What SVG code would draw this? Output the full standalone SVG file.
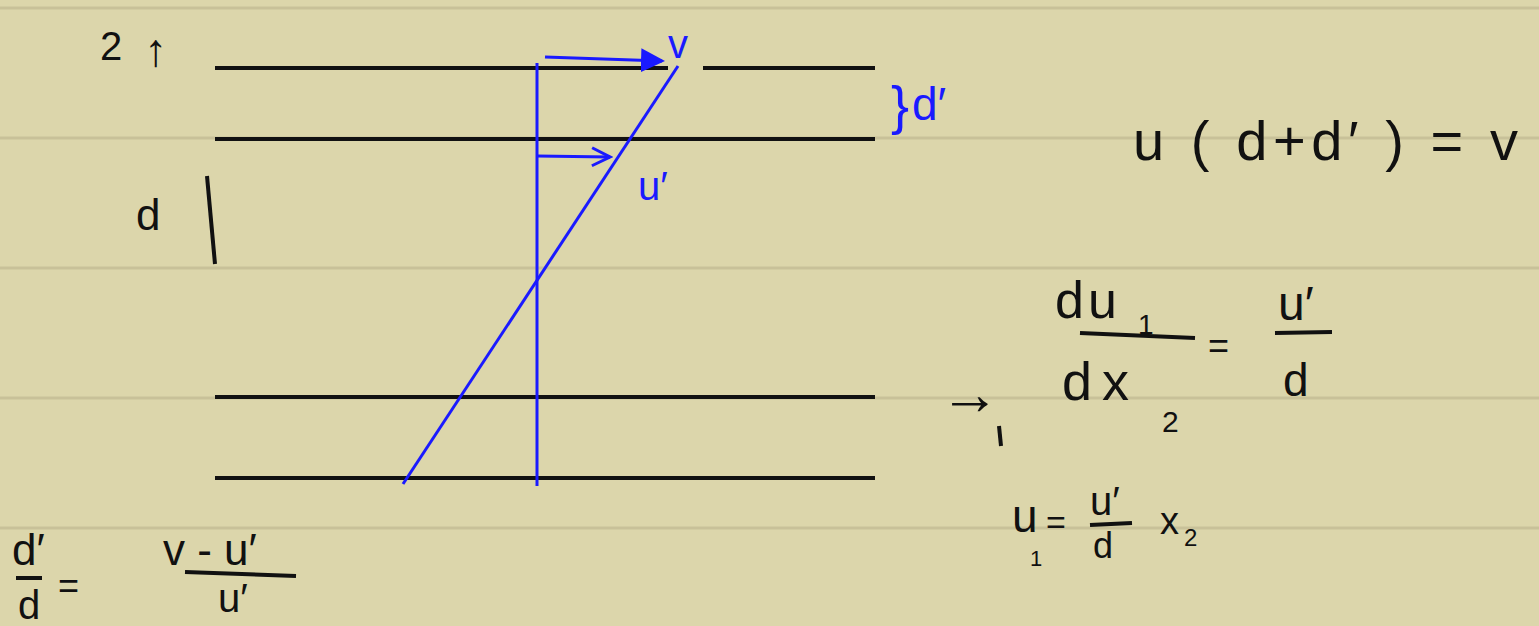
<svg xmlns="http://www.w3.org/2000/svg" width="1539" height="626" viewBox="0 0 1539 626">
<defs>
<style>
.paper{stroke:#c8c199;stroke-width:3}
.blk{stroke:#111;stroke-width:4;fill:none}
.blu{stroke:#1a1aff;stroke-width:3;fill:none}
.tb{font-family:"Liberation Sans",sans-serif;fill:#111}
.tu{font-family:"Liberation Sans",sans-serif;fill:#1a1aff}
</style>
<marker id="ah" markerWidth="8" markerHeight="8" refX="7" refY="4" orient="auto" markerUnits="strokeWidth">
<path d="M0,0 L8,4 L0,8 z" fill="#1a1aff"/>
</marker>
<marker id="ao" markerWidth="8" markerHeight="8" refX="7" refY="4" orient="auto" markerUnits="strokeWidth">
<path d="M1,1 L7,4 L1,7" fill="none" stroke="#1a1aff" stroke-width="1"/>
</marker>
</defs>
<rect width="1539" height="626" fill="#dcd6ab"/>
<g id="paper">
<line class="paper" x1="0" y1="8" x2="1539" y2="8"/>
<line class="paper" x1="0" y1="138" x2="1539" y2="138"/>
<line class="paper" x1="0" y1="268" x2="1539" y2="268"/>
<line class="paper" x1="0" y1="398" x2="1539" y2="398"/>
<line class="paper" x1="0" y1="528" x2="1539" y2="528"/>
</g>
<g id="plates">
<line class="blk" x1="215" y1="68" x2="668" y2="68"/>
<line class="blk" x1="703" y1="68" x2="875" y2="68"/>
<line class="blk" x1="215" y1="139" x2="875" y2="139"/>
<line class="blk" x1="215" y1="397" x2="875" y2="397"/>
<line class="blk" x1="215" y1="478" x2="875" y2="478"/>
</g>
<g id="connectors">
<line class="blu" x1="537" y1="63" x2="537" y2="486"/>
<line class="blu" x1="403" y1="484" x2="678" y2="66"/>
<line class="blu" x1="545" y1="57" x2="662" y2="61" marker-end="url(#ah)"/>
<line class="blu" x1="537" y1="156" x2="610" y2="157" marker-end="url(#ao)"/>
</g>
<g id="labels-blue">
<text class="tu" x="668" y="58" font-size="40">v</text>
<text class="tu" x="638" y="200" font-size="40">u′</text>
<text class="tu" x="891" y="124" font-size="54">}</text>
<text class="tu" x="912" y="120" font-size="46">d′</text>
</g>
<g id="labels-black">
<text class="tb" x="100" y="60" font-size="40">2</text>
<text class="tb" x="144" y="66" font-size="46">↑</text>
<text class="tb" x="136" y="230" font-size="44">d</text>
<line class="blk" x1="207" y1="176" x2="215" y2="264" stroke-width="3"/>
<text class="tb" x="1133" y="160" font-size="56" textLength="385" lengthAdjust="spacing">u ( d+d′ ) = v</text>
<text class="tb" x="1055" y="318" font-size="52" letter-spacing="4">du</text>
<text class="tb" x="1138" y="334" font-size="28">1</text>
<line class="blk" x1="1080" y1="333" x2="1195" y2="338" stroke-width="3"/>
<text class="tb" x="1208" y="358" font-size="36">=</text>
<text class="tb" x="1278" y="320" font-size="48">u′</text>
<line class="blk" x1="1275" y1="333" x2="1332" y2="332" stroke-width="3"/>
<text class="tb" x="1283" y="396" font-size="46">d</text>
<text class="tb" x="1062" y="400" font-size="54" letter-spacing="10">dx</text>
<text class="tb" x="1162" y="432" font-size="30">2</text>
<text class="tb" x="940" y="414" font-size="60">→</text>
<line class="blk" x1="999" y1="426" x2="1001" y2="446" stroke-width="3"/>
<text class="tb" x="1012" y="532" font-size="46">u</text>
<text class="tb" x="1030" y="566" font-size="22">1</text>
<text class="tb" x="1046" y="534" font-size="34">=</text>
<text class="tb" x="1090" y="515" font-size="40">u′</text>
<line class="blk" x1="1090" y1="525" x2="1132" y2="523" stroke-width="3"/>
<text class="tb" x="1093" y="558" font-size="36">d</text>
<text class="tb" x="1160" y="534" font-size="38">x</text>
<text class="tb" x="1184" y="546" font-size="24">2</text>
<text class="tb" x="12" y="565" font-size="44">d′</text>
<line class="blk" x1="16" y1="578" x2="42" y2="578" stroke-width="3"/>
<text class="tb" x="18" y="619" font-size="40">d</text>
<text class="tb" x="58" y="598" font-size="36">=</text>
<text class="tb" x="163" y="565" font-size="44">v - u′</text>
<line class="blk" x1="185" y1="572" x2="296" y2="576" stroke-width="3"/>
<text class="tb" x="218" y="612" font-size="40">u′</text>
</g>
</svg>
